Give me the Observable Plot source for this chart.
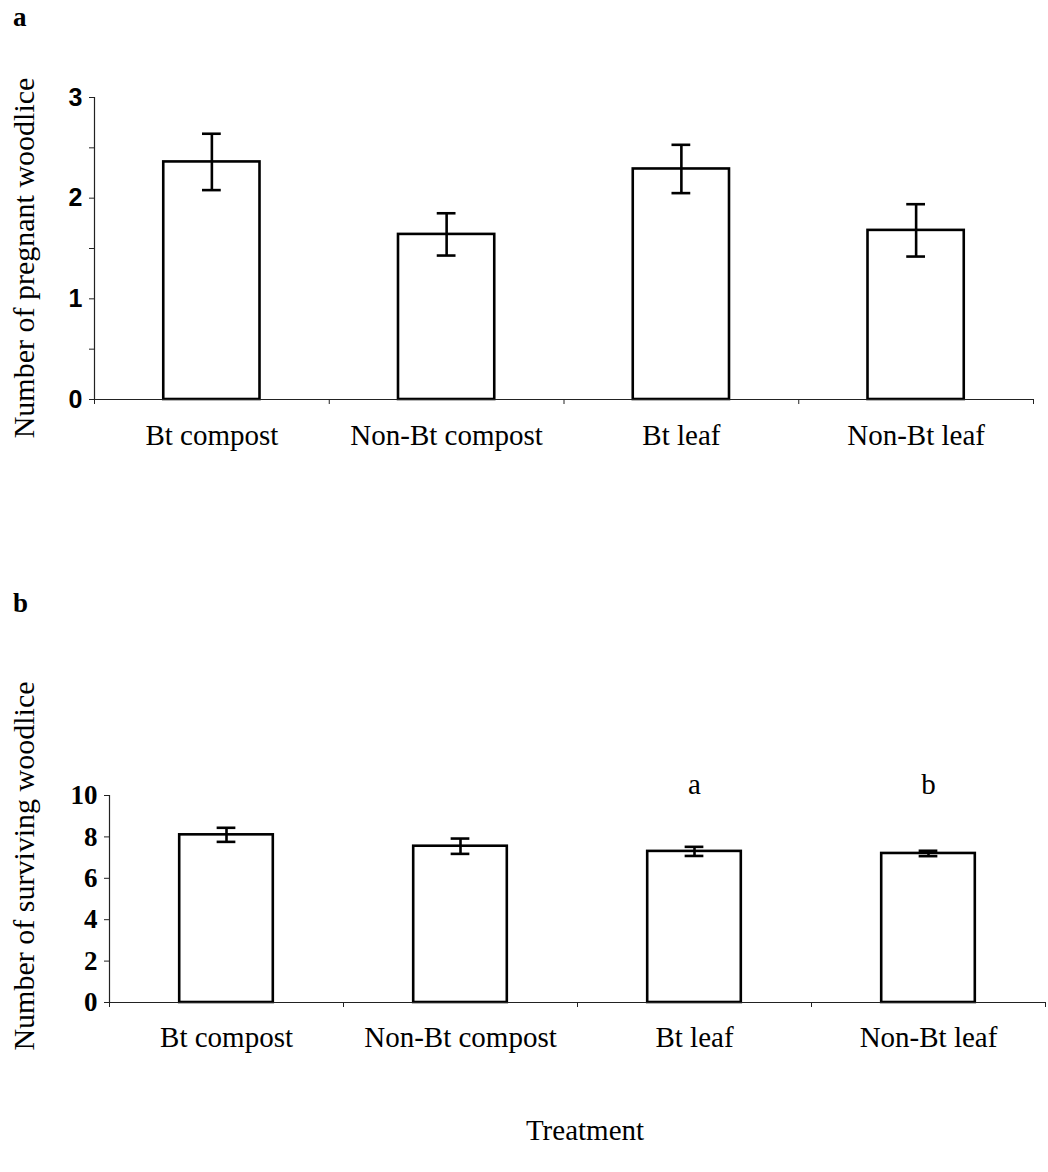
<!DOCTYPE html>
<html>
<head>
<meta charset="utf-8">
<script src="https://cdn.jsdelivr.net/npm/d3@7"></script>
<script src="https://cdn.jsdelivr.net/npm/@observablehq/plot@0.6"></script>
<style>
  html, body { margin: 0; padding: 0; background: #fff; }
  #root { position: relative; width: 1048px; height: 1172px; overflow: hidden; font-family: "Liberation Serif", serif; color: #000; }
  .abs { position: absolute; white-space: nowrap; }
  .panel { position: absolute; left: 0; }
  .ytitle { position: absolute; white-space: nowrap; font-size: 30px; transform: translate(-50%, -50%) rotate(-90deg); }
</style>
</head>
<body>
<div id="root"></div>
<script>
// ---- data ----
const categories = ["Bt compost", "Non-Bt compost", "Bt leaf", "Non-Bt leaf"];
const pregnantMean = [2.36, 1.64, 2.29, 1.68];
const pregnantSE = [0.28, 0.21, 0.24, 0.26];
const survivingMean = [8.1, 7.55, 7.3, 7.2];
const survivingSE = [0.34, 0.37, 0.22, 0.13];
const survivingLetters = ["", "", "a", "b"];
const pregnantTicks = [0, 0.5, 1, 1.5, 2, 2.5, 3];
const survivingTicks = [0, 2, 4, 6, 8, 10];

const root = document.getElementById("root");

function rows(means, ses, letters) {
  return categories.map((c, i) => ({ cat: c, i, mean: means[i], se: ses[i], letter: letters ? letters[i] : "" }));
}

function panel({ data, yDomain, yTicks, yFormat, yFont, width, height, marginLeft, marginRight, marginTop, marginBottom, barHalf, capHalf, labelPad }) {
  const centers = data.map(d => d.i + 0.5);
  return Plot.plot({
    width, height, marginLeft, marginRight, marginTop, marginBottom,
    style: { background: "transparent", overflow: "visible" },
    x: { domain: [0, categories.length], axis: null },
    y: { domain: yDomain, axis: null },
    marks: [
      // bars
      Plot.rectY(data, { x1: d => d.i + 0.5 - barHalf, x2: d => d.i + 0.5 + barHalf, y1: 0, y2: "mean", fill: "#fff", stroke: "#000", strokeWidth: 2.6 }),
      // axes lines
      Plot.ruleY([0], { stroke: "#222", strokeWidth: 1.2 }),
      Plot.ruleX([0], { stroke: "#222", strokeWidth: 1.2 }),
      // error bars
      Plot.ruleX(data, { x: d => d.i + 0.5, y1: d => d.mean - d.se, y2: d => d.mean + d.se, stroke: "#000", strokeWidth: 2.6 }),
      Plot.ruleY(data, { y: d => d.mean + d.se, x1: d => d.i + 0.5 - capHalf, x2: d => d.i + 0.5 + capHalf, stroke: "#000", strokeWidth: 2.6 }),
      Plot.ruleY(data, { y: d => d.mean - d.se, x1: d => d.i + 0.5 - capHalf, x2: d => d.i + 0.5 + capHalf, stroke: "#000", strokeWidth: 2.6 }),
      // y axis
      Plot.axisY({ ticks: yTicks, tickSize: 5, tickPadding: 7, tickFormat: yFormat, fontSize: yFont.size, fontWeight: "bold", fontFamily: yFont.family, stroke: "#222", label: null }),
      // x axis: boundary ticks
      Plot.axisX({ ticks: d3.range(0, categories.length + 1), tickSize: 5, tickFormat: () => "", stroke: "#222", label: null }),
      // x axis: category labels
      Plot.axisX({ ticks: centers, tickSize: 0, tickPadding: labelPad, tickFormat: d => categories[Math.floor(d)], fontSize: 29, fontFamily: "Liberation Serif", label: null }),
      // significance letters
      Plot.text(data.filter(d => d.letter), { x: d => d.i + 0.5, text: "letter", frameAnchor: "top", dy: -22, fontSize: 29, fontFamily: "Liberation Serif", fill: "#000" })
    ]
  });
}

// Panel a
const svgA = panel({
  data: rows(pregnantMean, pregnantSE),
  yDomain: [0, 3], yTicks: pregnantTicks,
  yFormat: d => Number.isInteger(d) ? d : "",
  yFont: { size: 25, family: "Liberation Sans" },
  width: 1048, height: 480, marginLeft: 94, marginRight: 15, marginTop: 97, marginBottom: 81,
  barHalf: 0.205, capHalf: 0.04, labelPad: 25
});
svgA.classList.add("panel"); svgA.style.top = "0px";
root.appendChild(svgA);

// Panel b
const svgB = panel({
  data: rows(survivingMean, survivingSE, survivingLetters),
  yDomain: [0, 10], yTicks: survivingTicks,
  yFormat: d => d,
  yFont: { size: 27, family: "Liberation Serif" },
  width: 1048, height: 480, marginLeft: 109, marginRight: 3, marginTop: 195, marginBottom: 78,
  barHalf: 0.2, capHalf: 0.04, labelPad: 24
});
svgB.classList.add("panel"); svgB.style.top = "600px";
root.appendChild(svgB);

// Text: panel letters, y titles, x title
function addText(txt, cls, css) {
  const el = document.createElement("div");
  el.className = cls; el.textContent = txt;
  Object.assign(el.style, css);
  root.appendChild(el);
}
addText("a", "abs", { left: "13px", top: "2px", fontSize: "27px", fontWeight: "bold" });
addText("b", "abs", { left: "13px", top: "588px", fontSize: "27px", fontWeight: "bold" });
addText("Number of pregnant woodlice", "ytitle", { left: "24px", top: "258px" });
addText("Number of surviving woodlice", "ytitle", { left: "24px", top: "866px" });
addText("Treatment", "abs", { left: "585px", top: "1130px", fontSize: "29px", transform: "translate(-50%, -50%)" });
</script>
</body>
</html>
